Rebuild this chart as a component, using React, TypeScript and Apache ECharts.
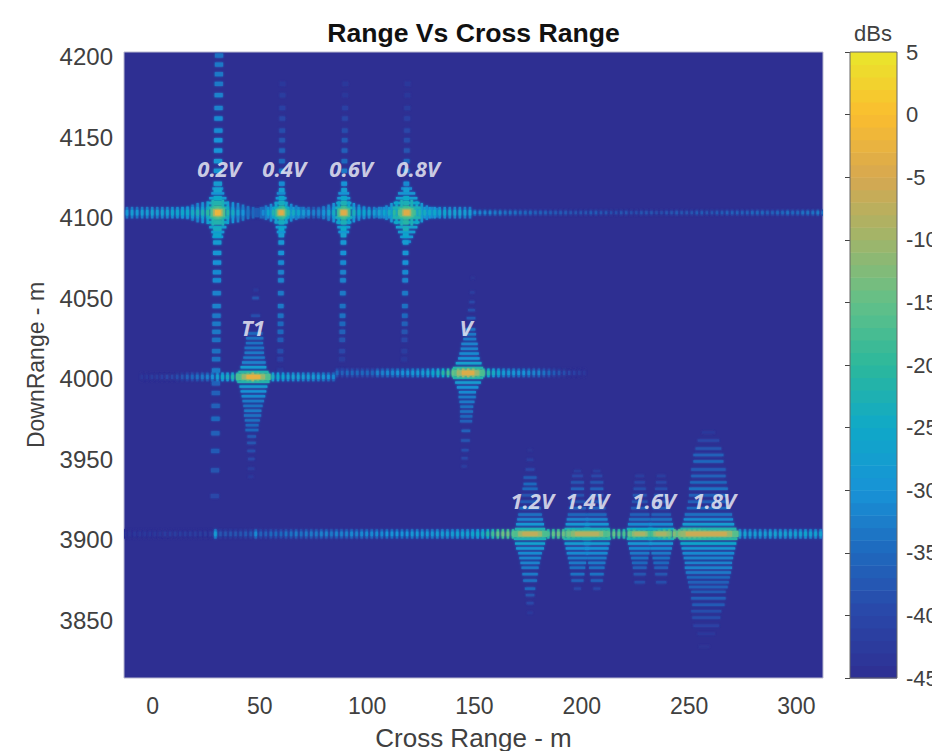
import React, { useEffect, useRef } from "react";
import * as echarts from "echarts";

const xTicks = [0, 50, 100, 150, 200, 250, 300];
const yTicks = [3850, 3900, 3950, 4000, 4050, 4100, 4150, 4200];
const colorbarTicks = [-45, -40, -35, -30, -25, -20, -15, -10, -5, 0, 5];
const colorbarLevels = [-45,-44,-43,-42,-41,-40,-39,-38,-37,-36,-35,-34,-33,-32,-31,-30,-29,-28,-27,-26,-25,-24,-23,-22,-21,-20,-19,-18,-17,-16,-15,-14,-13,-12,-11,-10,-9,-8,-7,-6,-5,-4,-3,-2,-1,0,1,2,3,4];
const palette = ["#2e2f92","#2a46a8","#1f68bd","#1893d6","#0fa8c8","#2cb89c","#62c088","#a0b56a","#d6a850","#fbbd2f","#e9e62c"];

// dB along the three horizontal streaks
const rowA = [-29,-28,-29,-28,-28,-27,-28,-27,-27,-26,-26,-25,-25,-24,-23,-22,-20,-17,-12,-17,-21,-24,-27,-30,-34,-38,-40,-31,-26,-22,-19,-14,-21,-24,-26,-28,-30,-32,-32,-30,-27,-24,-20,-13,-20,-23,-25,-26,-27,-28,-27,-26,-24,-20,-16,-14,-13,-18,-22,-24,-25,-25,-26,-26,-27,-27,-27,-28,-28];
const rowATail = [-31,-32,-32,-32,-33,-33,-34,-34,-34,-35,-35,-35,-36,-36,-36,-37,-37,-37,-37,-38,-38,-38,-38,-37,-37,-38,-38,-39,-39,-38,-38,-39,-39,-38,-38,-38,-39,-39,-38,-38,-37,-38,-38,-38,-37,-37,-38,-38,-37,-37,-36,-36,-36,-36,-36,-35,-35,-35,-36,-36,-35,-35,-34,-35,-35,-34,-34,-34,-33,-33];
const rowB1 = [-43,-43,-42,-42,-41,-40,-40,-39,-38,-36,-35,-34,-33,-32,-30,-27,-25,-24,-22,-20,-17,-13,-6,-13,-18,-21,-24,-25,-26,-27,-27,-27,-28,-28,-28,-29,-29,-30,-31];
const rowB2 = [-35,-36,-35,-35,-35,-35,-35,-35,-32,-32,-31,-31,-30,-30,-30,-29,-29,-28,-27,-26,-24,-21,-18,-15,-10,-6,-5,-8,-14,-18,-21,-24,-26,-28,-29,-29,-30,-30,-31,-32,-32,-34,-35,-37,-38,-39,-40,-41,-42,-43];
const rowC = [-44,-44,-43,-43,-43,-43,-43,-43,-42,-42,-42,-42,-42,-42,-42,-42,-42,-42,-28,-38,-38,-38,-38,-38,-37,-37,-31,-36,-36,-35,-35,-35,-34,-34,-33,-34,-33,-33,-33,-32,-32,-33,-32,-32,-32,-31,-32,-31,-31,-31,-31,-31,-30,-30,-30,-30,-30,-29,-29,-29,-29,-29,-28,-28,-28,-28,-27,-27,-27,-26,-25,-24,-21,-18,-15,-14,-14,-16,-18,-23,-28,-29,-26,-21,-17,-15,-14,-14,-14,-16,-20,-25,-29,-29,-24,-18,-16,-15,-16,-17,-15,-16,-20,-26,-28,-22,-17,-14,-13,-12,-12,-12,-12,-12,-13,-15,-19,-23,-25,-26,-26,-27,-27,-27,-28,-28,-28,-28,-27,-27,-27,-27,-27,-27,-27,-26,-27,-27,-27];

// cross-range columns: where the side lobes sit, and dB for each (null = not visible)
const lobeY = [4200.6,4195,4189,4183,4176,4168,4161.5,4154,4148,4141.6,4135,4129,4121,4117,4112,4109,4106,4100,4097,4093,4089,4084.5,4078,4072,4066,4061,4053,4045,4039,4034,4029,4024,4017,4012,4005,3997,3991,3983,3975,3966,3955,3943,3927];
const col02V = [-34,-33,-33,-33,-32,-32,-31,-31,-30,-30,-29,-29,-28,-27,-25,-22,-19,-19,-22,-24,-26,-28,-29,-30,-31,-31,-32,-32,-33,-33,-33,-34,-34,-34,-33,-36,-36,-36,-35,-36,-37,-38,-40];
const col04V = [null,null,null,-43,-42,-41,-40,-39,-38,-36,-35,-34,-31,-28,-26,-24,-21,-21,-24,-26,-28,-29,-30,-31,-32,-32,-33,-33,-34,-35,-35,-37,-39,-41,-43,null,null,null,null,null,null,null,null];
const col06V = [null,null,null,-43,-43,-41,-40,-39,-37,-36,-35,-33,-30,-28,-26,-23,-20,-20,-23,-25,-27,-29,-30,-31,-32,-32,-33,-34,-34,-35,-36,-38,-40,-42,-43,null,null,null,null,null,null,null,null];
const col08V = [null,null,null,-43,-43,-42,-41,-40,-39,-38,-35,-33,-31,-28,-25,-23,-20,-19,-21,-23,-26,-28,-29,-30,-31,-32,-33,-34,-35,-36,-38,-40,-42,-43,null,null,null,null,null,null,null,null,null];

// halo rows: [offset across, half height, dB], mirrored about the peak
const halo02V = [[2.35,8,-23],[4.7,7,-28],[7.05,6.5,-30],[9.4,6,-32],[11.75,5,-33],[14.1,4,-34],[16.45,3.5,-35],[18.8,2.8,-37]];
const halo04V = [[2.35,6.5,-27],[4.7,5.5,-31],[7.05,4.5,-33],[9.4,3.5,-35],[11.75,2.8,-37]];
const halo06V = [[2.35,7,-26],[4.7,6,-30],[7.05,5,-32],[9.4,4,-33],[11.75,3,-35]];
const halo08V = [[2.35,8,-23],[4.7,7,-27],[7.05,6,-29],[9.4,4.5,-31],[11.75,3.5,-32],[14.1,3,-34]];

// stacked bands: [offset up, offset across, half width, dB]
const cross02V = [[3,0,5,-24],[6,0,4.5,-27],[9,0,4,-29],[12,0,3,-30],[15,0,2.5,-31],[-3,0,5,-24],[-6,0,4.5,-26],[-9,0,4,-28],[-12,0,3,-29],[-15,0,2.5,-30]];
const cross04V = [[3,0,3.5,-25],[6,0,3,-28],[9,0,2.5,-30],[12,0,2,-31],[-3,0,3.5,-25],[-6,0,3,-27],[-9,0,2.5,-29],[-12,0,2,-30]];
const cross06V = [[3,0,4,-24],[6,0,3.5,-27],[9,0,3,-29],[12,0,2.5,-30],[-3,0,4,-24],[-6,0,3.5,-27],[-9,0,3,-29],[-12,0,2.5,-30]];
const cross08V = [[3,0,6.5,-23],[6,0,6,-26],[9,0,5,-28],[12,0,4,-29],[15,0,2.5,-31],[-3,0,6.5,-22],[-6,0,6,-25],[-9,0,5,-27],[-12,0,4,-28],[-15,0,3,-29],[-18,0,2,-31]];
const bandsT1 = [[3,0,7,-22],[6,0,6,-28],[9,0.2,5.5,-32],[12,0.3,5,-33],[15,0.4,4.5,-33],[18,0.4,4.5,-34],[21,0.5,4,-34],[24,0.6,4,-34],[27,0.7,3.5,-35],[38,1,2,-39],[49,1,1.5,-38],[54,1.2,1,-43],[-3,0,7.5,-22],[-6,0,6.5,-28],[-9,0,6,-30],[-12,0,5.5,-31],[-15,-0.1,5,-33],[-18,-0.2,4.5,-34],[-21,-0.3,4,-33],[-24,-0.4,4,-34],[-27,-0.5,3.5,-34],[-30,-0.6,3,-35],[-33,-0.7,3,-35],[-37,-0.8,2,-37],[-41,-0.9,2,-38],[-46,-1,1.8,-39],[-51,-1,1.5,-40],[-57,-1.1,1.5,-42],[-62,-1.2,1.2,-43]];
const bandsV = [[3,0,7,-22],[6,0.3,6,-27],[9,0.4,5,-30],[12,0.5,4.5,-31],[15,0.6,4,-32],[18,0.7,3.8,-32],[21,0.8,3,-33],[24,0.9,2.8,-33],[27,1,2.4,-34],[34,1.4,2,-37],[39,1.6,1.6,-39],[44,1.8,1.2,-40],[50,2,1,-42],[59,2.2,0.8,-44],[-3,0,7,-22],[-6,0,6,-28],[-9,-0.2,5,-30],[-12,-0.3,4,-31],[-15,-0.4,4,-33],[-18,-0.5,3.5,-33],[-21,-0.6,3,-34],[-24,-0.7,3,-34],[-27,-0.8,2.8,-35],[-30,-0.9,2.8,-36],[-36,-1,2,-36],[-42,-1.2,2,-38],[-48,-1.4,1.6,-39],[-53,-1.6,1.4,-40],[-58,-1.8,1.2,-42]];
const bands12V = [[3,0,7,-23],[6,0,6.5,-29],[9,0,6,-32],[12,0,5.5,-34],[16,0,5,-35],[20,0,4.5,-37],[24,0,4,-38],[28,0,3.5,-35],[31,0,3,-35],[35,0,3,-37],[40,0,2,-40],[46,0,1.5,-42],[52,0,1,-44],[-3,0,7.5,-23],[-6,0,7,-27],[-9,0,6.5,-29],[-12,0,5.5,-31],[-15,0,5,-32],[-18,0,4.5,-32],[-21,0,4,-33],[-25,0,3.6,-33],[-29,0,3.2,-34],[-34,0,2.4,-35],[-38,0,2,-38],[-43,0,1.6,-40],[-49,0,1.2,-43]];
const bands14V = [[3,0,6,-24],[6,0,5.5,-29],[9,0,5,-32],[12,0,4.5,-35],[16,0,4,-36],[20,0,3.5,-38],[24,0,3,-38],[28,0,3,-36],[32,0,3,-38],[36,0,2.5,-40],[39,0,1.6,-42],[-3,0,6.5,-23],[-6,0,6,-28],[-9,0,5.5,-30],[-12,0,5,-31],[-15,0,4.5,-33],[-18,0,4,-33],[-21,0,3.6,-34],[-25,0,3.2,-34],[-29,0,2.8,-36],[-34,0,1.6,-40]];
const bands16V = [[3,0,6,-25],[6,0,5.5,-31],[9,0,5,-34],[12,0,4.5,-36],[16,0,4,-37],[20,0,3.6,-38],[24,0,3.2,-38],[28,0,2.8,-39],[32,0,2.4,-40],[36,0,2,-42],[-3,0,6,-24],[-6,0,5.5,-29],[-9,0,5,-31],[-12,0,4.5,-33],[-15,0,4,-34],[-18,0,3.6,-35],[-21,0,3.2,-36],[-25,0,2.8,-38],[-30,0,2.4,-39]];
const bands18V = [[3,0,13,-22],[6,0,12,-28],[9,0,11.5,-31],[12,0,11,-34],[16,0,10,-35],[20,0,9.5,-36],[24,0,9,-36],[28,0,9,-34],[32,0,8.5,-35],[36,0,8,-36],[40,0,8,-37],[45,0,7,-35],[49,0,7,-36],[53,0,6,-38],[58,0,5,-40],[63,0,3,-43],[-3,0,13.5,-21],[-6,0,13,-26],[-9,0,12.5,-29],[-12,0,12,-31],[-15,0,11.5,-32],[-18,0,11,-32],[-21,0,11,-32],[-24,0,10.5,-33],[-27,0,10,-35],[-30,0,9.5,-36],[-33,0,9,-36],[-36,0,8,-37],[-40,0,8,-36],[-44,0,7.5,-37],[-48,-1,7,-39],[-52,-1,6.5,-39],[-57,-1,6,-41],[-62,-1,4,-43],[-70,-2,2.4,-44]];

// hot centres: [half width, half height, dB], widest first
const core02V = [[3.4,2.8,-18],[2.2,2.2,-10],[1.3,1.6,-2]];
const core04V = [[2.6,2.4,-19],[1.7,1.9,-11],[1.1,1.4,-4]];
const core06V = [[2.8,2.6,-18],[1.8,1.9,-10],[1.2,1.4,-4]];
const core08V = [[3.2,2.8,-17],[2,2,-10],[1.3,1.5,-4]];
const coreT1 = [[8,1.9,-17],[5.4,1.5,-11],[3.2,1.2,-3]];
const coreV = [[7.5,1.9,-17],[5,1.5,-11],[2.8,1.2,-4]];
const core12V = [[8,1.9,-17],[5.5,1.5,-11],[3.5,1.1,-7]];
const core14V = [[10,1.9,-17],[7.5,1.5,-12],[5.5,1.1,-8]];
const core16L = [[5,1.8,-18],[3.6,1.4,-12],[2.4,1,-9]];
const core18V = [[15,2,-16],[12,1.6,-11],[9.5,1.2,-6]];

const labelPoints = [
  { name: "0.2V", value: [31, 4130.7] },
  { name: "0.4V", value: [61.3, 4130.7] },
  { name: "0.6V", value: [92.5, 4131] },
  { name: "0.8V", value: [123.7, 4130.7] },
  { name: "T1", value: [46.8, 4032] },
  { name: "V", value: [146, 4032] },
  { name: "1.2V", value: [176.9, 3924.5] },
  { name: "1.4V", value: [202.5, 3924.5] },
  { name: "1.6V", value: [233.7, 3924.5] },
  { name: "1.8V", value: [261.7, 3924.5] },
];

const bars: number[][] = [];
const stripes = (xStart: number, step: number, y: number, halfH: number, values: number[]) =>
  values.forEach((v, i) => {
    const x = xStart + i * step;
    bars.push([x - 0.55, x + 0.55, y - halfH * 2.1, y + halfH * 2.1, v - 5]);
    bars.push([x - 0.55, x + 0.55, y - halfH, y + halfH, v]);
  });
const column = (xTop: number, xBottom: number, halfW: number, values: (number | null)[]) =>
  values.forEach((v, i) => {
    if (v === null) return;
    const t = (lobeY[0] - lobeY[i]) / (lobeY[0] - lobeY[lobeY.length - 1]);
    const x = xTop + (xBottom - xTop) * t;
    bars.push([x - halfW, x + halfW, lobeY[i] - 1.3, lobeY[i] + 1.3, v]);
  });
const band = (cx: number, cy: number, rows: number[][]) =>
  rows.forEach(([dy, dx, hw, v]) => bars.push([cx + dx - hw, cx + dx + hw, cy + dy - 0.75, cy + dy + 0.75, v]));
const halo = (cx: number, cy: number, rows: number[][]) =>
  rows.forEach(([dx, hh, v]) => {
    bars.push([cx - dx - 0.55, cx - dx + 0.55, cy - hh, cy + hh, v]);
    bars.push([cx + dx - 0.55, cx + dx + 0.55, cy - hh, cy + hh, v]);
  });
const core = (cx: number, cy: number, rows: number[][]) =>
  rows.forEach(([hw, hh, v]) => bars.push([cx - hw, cx + hw, cy - hh, cy + hh, v]));

stripes(-11.9, 2.35, 4103, 1.7, rowA);
stripes(150.2, 2.35, 4103, 0.9, rowATail);
stripes(-5, 2.35, 4001, 1.3, rowB1);
stripes(86, 2.35, 4003.5, 1.3, rowB2);
stripes(-13, 2.35, 3903.5, 1.4, rowC);
column(31, 29, 1.9, col02V);
column(60.7, 59, 1.3, col04V);
column(90, 87.5, 1.3, col06V);
column(119, 116.5, 1.3, col08V);
halo(30.4, 4103, halo02V); band(30.4, 4103, cross02V); core(30.4, 4103, core02V);
halo(59.9, 4103, halo04V); band(59.9, 4103, cross04V); core(59.9, 4103, core04V);
halo(89.1, 4103, halo06V); band(89.1, 4103, cross06V); core(89.1, 4103, core06V);
halo(118.4, 4103, halo08V); band(118.4, 4103, cross08V); core(118.4, 4103, core08V);
band(47, 4001, bandsT1); core(47, 4001, coreT1);
band(147, 4003.5, bandsV); core(147, 4003.5, coreV);
band(175.9, 3903.5, bands12V); core(175.9, 3903.5, core12V);
band(198, 3903.5, bands14V); band(207, 3903.5, bands14V); core(202.4, 3903.5, core14V);
band(227, 3903.5, bands16V); band(237, 3903.5, bands16V); core(227, 3903.5, core16L); core(237, 3903.5, core16L);
band(259, 3903.5, bands18V); core(258, 3903.5, core18V);
bars.sort((a, b) => a[4] - b[4]);

const dbColor = (db: number) =>
  echarts.color.lerp(Math.min(1, Math.max(0, (db + 45) / 50)), palette) as string;

const grey = "#404040";
const font = "'Liberation Sans', Arial, sans-serif";
const plain = (v: number) => String(v);

export default function App() {
  const ref = useRef<HTMLDivElement>(null);
  useEffect(() => {
    document.body.style.margin = "0";
    const chart = echarts.init(ref.current!, undefined, { renderer: "svg" });
    chart.setOption({
      animation: false,
      backgroundColor: "#ffffff",
      title: [
        { text: "Range Vs Cross Range", left: 468.5, top: 14, textAlign: "center",
          textStyle: { fontFamily: font, fontWeight: "bold", fontSize: 26.6, color: "#111" } },
        { text: "dBs", left: 868, top: 17, textAlign: "center",
          textStyle: { fontFamily: font, fontWeight: "normal", fontSize: 22, color: grey } },
      ],
      grid: [
        { left: 124, top: 52, width: 699, height: 626, outerBoundsMode: "none", show: true, backgroundColor: palette[0], borderColor: "#b9b9d0", borderWidth: 1 },
        { left: 850, top: 52, width: 47, height: 626, outerBoundsMode: "none", show: true, backgroundColor: "transparent", borderColor: "#666", borderWidth: 1, z: 5 },
      ],
      xAxis: [
        { type: "value", gridIndex: 0, min: -13.3, max: 312.4, splitLine: { show: false },
          axisLine: { show: false }, axisTick: { show: false },
          axisLabel: { customValues: xTicks, formatter: plain, fontFamily: font, fontSize: 23, color: grey, margin: 16 },
          name: "Cross Range - m", nameLocation: "middle", nameGap: 47,
          nameTextStyle: { fontFamily: font, fontSize: 26, color: grey } },
        { type: "value", gridIndex: 1, min: 0, max: 1, show: false },
      ],
      yAxis: [
        { type: "value", gridIndex: 0, min: 3814, max: 4202.8, splitLine: { show: false },
          axisLine: { show: false }, axisTick: { show: false },
          axisLabel: { customValues: yTicks, formatter: plain, fontFamily: font, fontSize: 24, color: grey, margin: 11 },
          name: "DownRange - m", nameLocation: "middle", nameGap: 77, nameRotate: 90,
          nameTextStyle: { fontFamily: font, fontSize: 23, color: grey } },
        { type: "value", gridIndex: 1, position: "right", min: -45, max: 5, interval: 5, splitLine: { show: false },
          axisLine: { show: false },
          axisTick: { show: true, inside: true, length: 5, lineStyle: { color: "#444" } },
          axisLabel: { customValues: colorbarTicks, formatter: plain, fontFamily: font, fontSize: 22, color: grey, margin: 9, padding: [5, 0, 0, 0] } },
      ],
      series: [
        {
          type: "custom", coordinateSystem: "cartesian2d", xAxisIndex: 0, yAxisIndex: 0, clip: true, silent: true,
          data: bars, encode: { x: [0, 1], y: [2, 3] },
          renderItem: (_p: any, api: any) => {
            const a = api.coord([api.value(0), api.value(3)]);
            const b = api.coord([api.value(1), api.value(2)]);
            const fill = dbColor(api.value(4));
            return { type: "rect", shape: { x: a[0], y: a[1], width: b[0] - a[0], height: b[1] - a[1] },
              style: { fill, shadowBlur: 2.5, shadowColor: fill } };
          },
        },
        {
          type: "custom", coordinateSystem: "cartesian2d", xAxisIndex: 1, yAxisIndex: 1, silent: true,
          data: colorbarLevels.map((l) => [0, l]), encode: { y: 1 },
          renderItem: (_p: any, api: any) => {
            const lv = api.value(1);
            const a = api.coord([0, lv + 1]);
            const b = api.coord([1, lv]);
            return { type: "rect", shape: { x: a[0], y: a[1], width: b[0] - a[0], height: b[1] - a[1] + 0.5 },
              style: { fill: dbColor(lv + 0.5) } };
          },
        },
        {
          type: "scatter", xAxisIndex: 0, yAxisIndex: 0, symbolSize: 0, silent: true, z: 10,
          data: labelPoints,
          label: { show: true, position: "inside", formatter: "{b}", fontFamily: "'Open Sans', sans-serif",
            fontStyle: "italic", fontWeight: "bold", fontSize: 22, color: "#f6f6fa" },
        },
      ],
    });
    return () => chart.dispose();
  }, []);
  return <div ref={ref} style={{ width: 932, height: 751 }} />;
}
